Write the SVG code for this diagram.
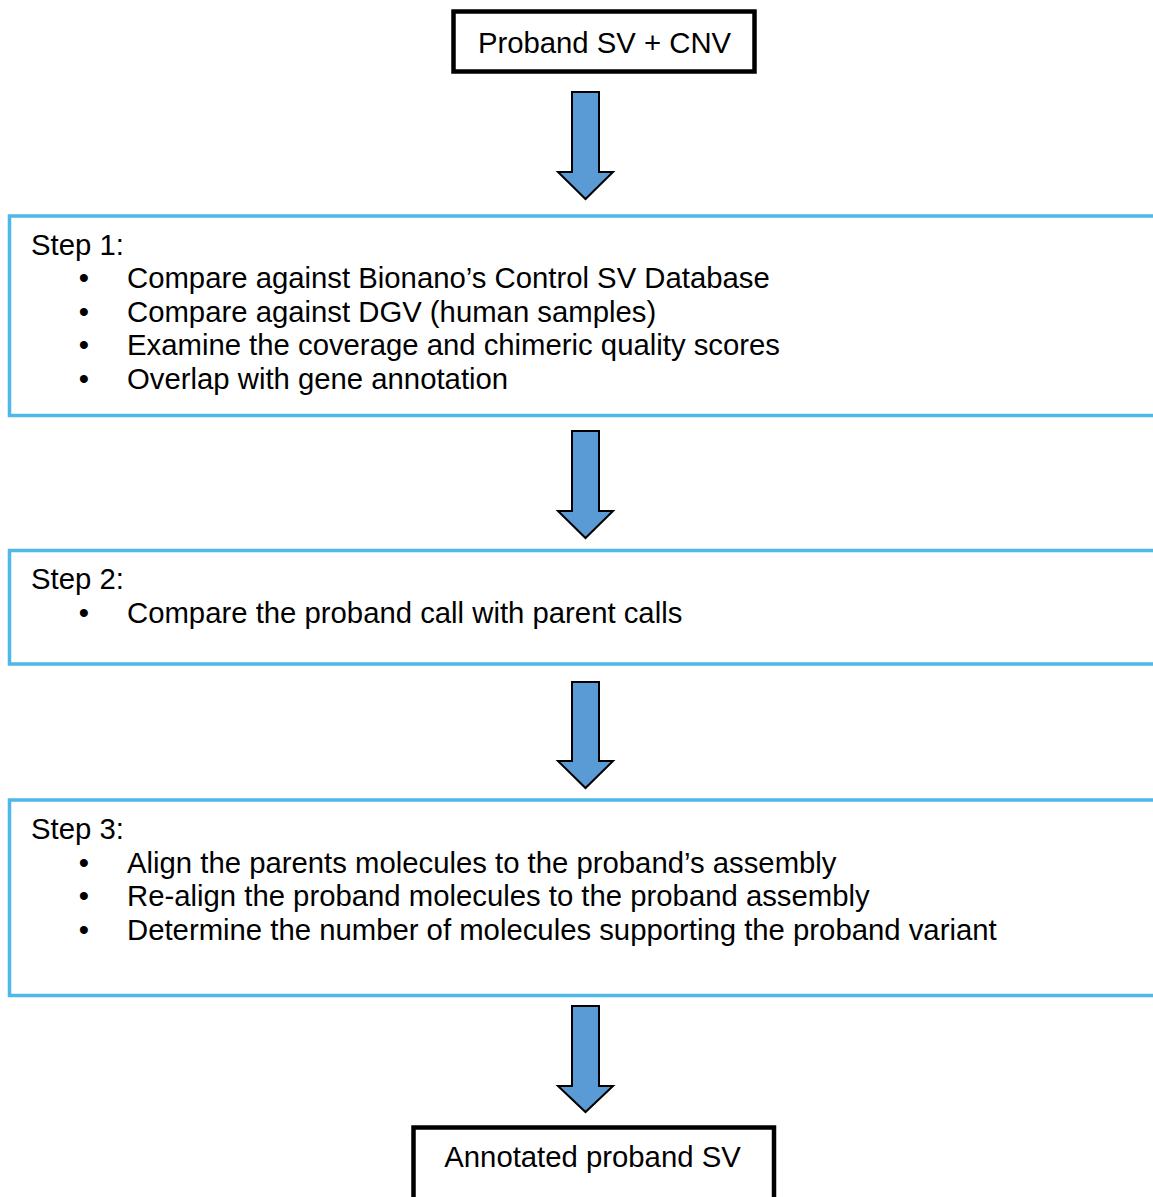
<svg xmlns="http://www.w3.org/2000/svg" width="1153" height="1197" viewBox="0 0 1153 1197">
<style>
text{font-family:"Liberation Sans",Arial,sans-serif;font-size:29.3px;fill:#000}
.term{fill:#fff;stroke:#000;stroke-width:4.5}
.step{fill:#fff;stroke:#4EB8E8;stroke-width:3.5}
.arr{fill:#5B9BD5;stroke:#000;stroke-width:2;stroke-linejoin:miter}
.b{text-anchor:middle}
</style>
<rect width="1153" height="1197" fill="#fff"/>
<g id="start">
<rect class="term" x="453.5" y="11.5" width="301" height="60"/>
<text x="604.5" y="52.5" text-anchor="middle">Proband SV + CNV</text>
</g>
<g id="step1">
<rect class="step" x="9.5" y="216" width="1160" height="199.5"/>
<text x="31" y="255">Step 1:</text>
<text class="b" x="84" y="288">•</text><text x="127" y="288">Compare against Bionano’s Control SV Database</text>
<text class="b" x="84" y="322">•</text><text x="127" y="322">Compare against DGV (human samples)</text>
<text class="b" x="84" y="355">•</text><text x="127" y="355">Examine the coverage and chimeric quality scores</text>
<text class="b" x="84" y="389">•</text><text x="127" y="389">Overlap with gene annotation</text>
</g>
<g id="step2">
<rect class="step" x="9.5" y="550.5" width="1160" height="113.5"/>
<text x="31" y="589">Step 2:</text>
<text class="b" x="84" y="623">•</text><text x="127" y="623">Compare the proband call with parent calls</text>
</g>
<g id="step3">
<rect class="step" x="9.5" y="800" width="1160" height="195.5"/>
<text x="31" y="839">Step 3:</text>
<text class="b" x="84" y="873">•</text><text x="127" y="873">Align the parents molecules to the proband’s assembly</text>
<text class="b" x="84" y="906">•</text><text x="127" y="906">Re-align the proband molecules to the proband assembly</text>
<text class="b" x="84" y="940">•</text><text x="127" y="940">Determine the number of molecules supporting the proband variant</text>
</g>
<g id="end">
<rect class="term" x="413.5" y="1127.5" width="360.5" height="100"/>
<text x="592.5" y="1167" text-anchor="middle">Annotated proband SV</text>
</g>
<g id="connectors">
<path class="arr" d="M572,92 H599 V172 H613 L585.5,199 L558,172 H572 Z"/>
<path class="arr" d="M572,431 H599 V511 H613 L585.5,538 L558,511 H572 Z"/>
<path class="arr" d="M572,682 H599 V761 H613 L585.5,788 L558,761 H572 Z"/>
<path class="arr" d="M572,1006 H599 V1086 H613 L585.5,1112 L558,1086 H572 Z"/>
</g>
</svg>
